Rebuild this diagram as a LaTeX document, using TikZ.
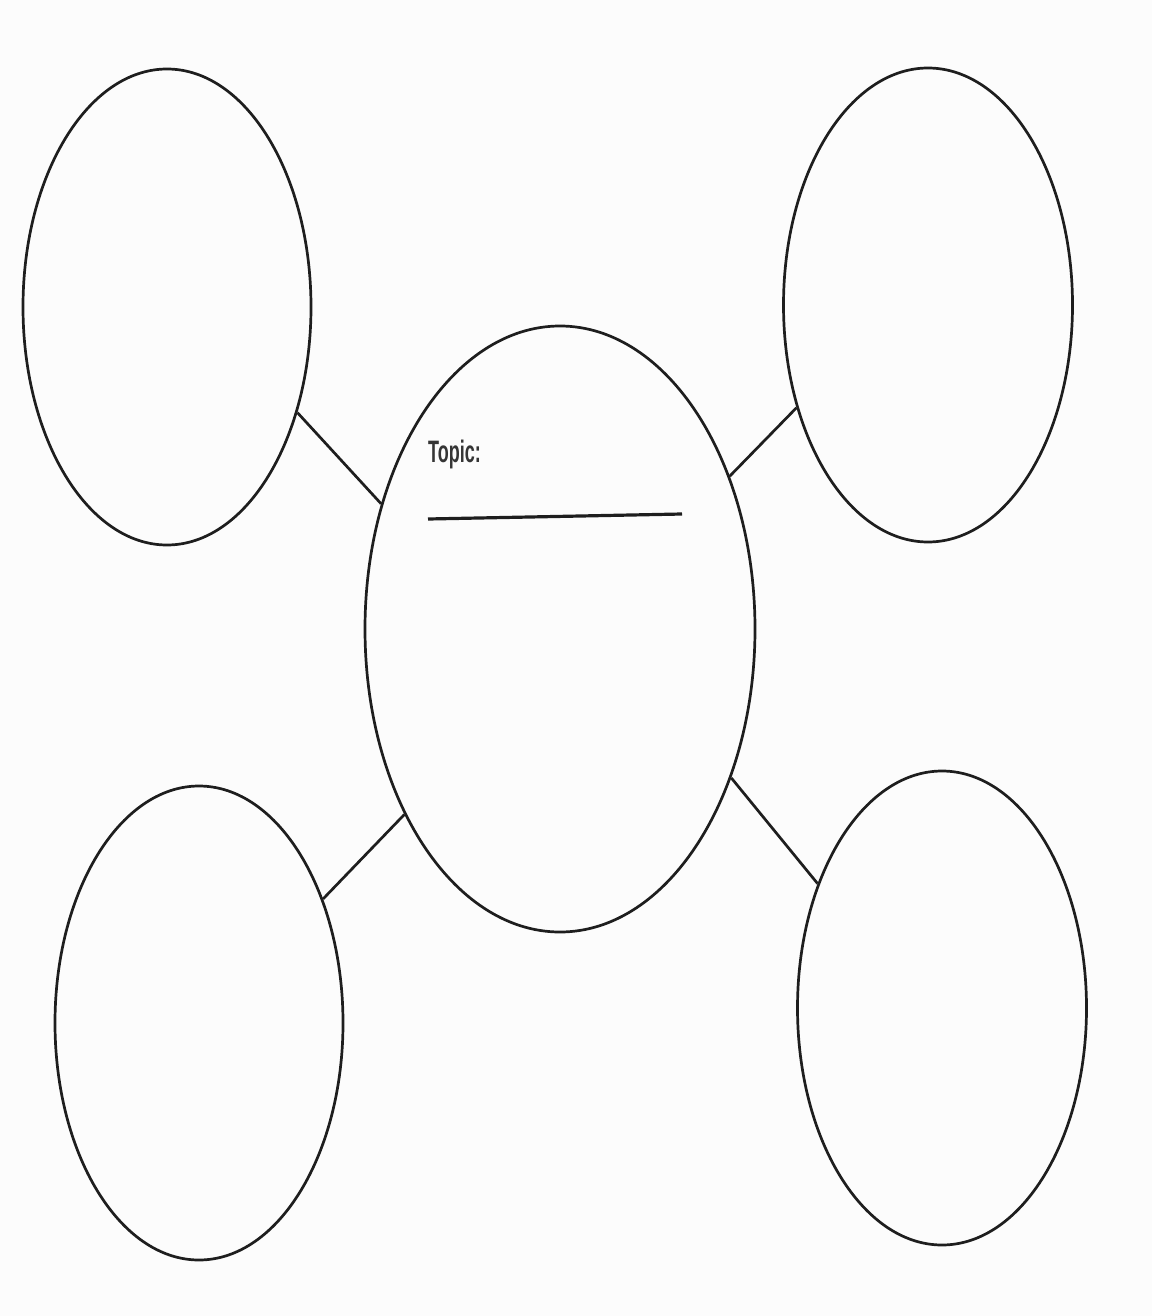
\documentclass[tikz,border=0pt]{standalone}
\usepackage{fontspec}
\setmainfont{Liberation Sans}
\usetikzlibrary{shapes.geometric}
\definecolor{bg}{RGB}{252,252,252}
\definecolor{ink}{RGB}{30,30,30}
\begin{document}
\begin{tikzpicture}[x=1pt,y=-1pt,
  bubble/.style={ellipse,draw=ink,line width=2.7pt,inner sep=0pt,minimum width=#1},
  link/.style={draw=ink,line width=2.7pt}]
\useasboundingbox (0,0) rectangle (1152,1316);
\fill[bg] (0,0) rectangle (1152,1316);
\node[bubble=288pt,minimum height=476pt] (tl) at (167,307) {};
\node[bubble=289pt,minimum height=474pt] (tr) at (928,305) {};
\node[bubble=390pt,minimum height=606pt] (c) at (560,629) {};
\node[bubble=288pt,minimum height=474pt] (bl) at (199,1023) {};
\node[bubble=289pt,minimum height=474pt] (br) at (942,1008) {};
\draw[link] (tl.-39.8) -- (c.145.3);
\draw[link] (tr.218.3) -- (c.42.5);
\draw[link] (bl.45.5) -- (c.230.1);
\draw[link] (br.135) -- (c.319.4);
\node[anchor=base west,inner sep=0pt,text=ink!90!white] (topic) at (428,462)
  {\fontsize{31}{36}\selectfont\bfseries\scalebox{0.58}[1]{Topic:}};
\coordinate (ls) at (428,519);
\coordinate (le) at (682,514);
\draw[link,line width=3.2pt] (ls) -- (le);
\end{tikzpicture}
\end{document}
